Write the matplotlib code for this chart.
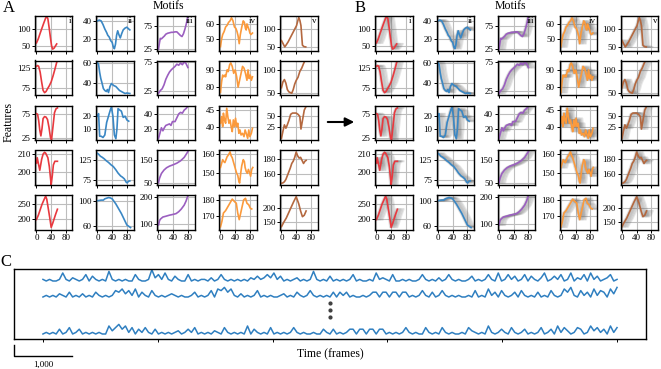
import matplotlib.pyplot as plt
import numpy as np
from matplotlib.patches import FancyArrowPatch
from matplotlib.transforms import blended_transform_factory

plt.rcParams['font.family'] = ['Liberation Serif', 'DejaVu Serif']

# ---- motif curves (frame, feature value), one list per row ----
motif_i_x = [[0, 5, 10, 15, 20, 25, 28, 31, 35, 38, 41, 44, 48, 52, 55],
             [0, 3, 6, 10, 14, 18, 22, 26, 30, 35, 40, 45, 50, 55, 58],
             [0, 3, 6, 9, 12, 15, 18, 22, 26, 30, 34, 38, 41, 45, 49, 53, 57],
             [0, 2, 5, 9, 14, 18, 22, 25, 31, 35, 38, 40, 43, 46, 50, 55, 57],
             [0, 5, 10, 15, 20, 25, 28, 32, 36, 40, 44, 48, 52, 57]]
motif_i_y = [[60, 72, 88, 103, 118, 132, 137, 130, 100, 75, 52, 42, 45, 52, 57],
             [130, 132, 130, 115, 90, 68, 62, 65, 72, 80, 90, 105, 122, 140, 148],
             [76, 75, 62, 42, 30, 45, 66, 70, 69, 64, 48, 27, 22, 50, 78, 86, 88],
             [205, 208, 205, 201, 207, 210, 211, 210.5, 208, 203, 197, 193, 198, 204, 206, 206, 206],
             [198, 212, 230, 248, 262, 275, 265, 235, 205, 172, 185, 200, 215, 232]]
motif_i_ylim = [(38, 138), (56, 145), (21.5, 93), (192.8, 212), (165, 279)]
motif_i_yticks = [[50, 100], [75, 125], [25, 75], [200, 210], [200, 250]]

motif_ii_x = [[0, 5, 10, 15, 20, 25, 28, 32, 36, 40, 43, 46, 49, 52, 55, 58, 62, 66, 70, 75, 80, 85, 88],
              [0, 3, 6, 9, 12, 16, 20, 24, 27, 30, 34, 38, 44, 50, 55, 60, 65, 70, 75, 80, 88],
              [0, 3, 6, 10, 15, 20, 25, 30, 35, 38, 42, 46, 50, 53, 56, 60, 65, 70, 75, 80, 85],
              [0, 3, 8, 12, 18, 24, 30, 37, 43, 50, 56, 63, 68, 73, 78, 81, 84, 88],
              [0, 5, 10, 16, 20, 25, 30, 35, 40, 45, 50, 55, 60, 65, 70, 75, 80, 85, 90]]
motif_ii_y = [[40, 41, 40, 36, 31, 27, 24, 22, 18, 16, 11, 9, 14, 24, 29, 25, 21, 26, 30, 32, 33, 31, 30],
              [60, 58, 50, 44, 40, 34, 32, 31, 33, 30, 36, 39, 37, 36, 34, 32, 31, 30, 29, 29.5, 29],
              [20, 22, 4, 4, 3, 5, 15, 20, 25, 27, 20, 5, 2, 10, 26, 25, 24, 19, 20, 17, 16],
              [140, 138, 133, 131, 127, 122, 118, 112, 108, 100, 92, 85, 82, 78, 70, 68, 72, 73],
              [100, 100.5, 101, 101, 103, 104, 105, 104.5, 103, 99, 95, 90, 85, 80, 74, 68, 62, 60, 58]]
motif_ii_ylim = [(7, 45.5), (27.5, 62), (1, 28.5), (63, 147), (55, 109)]
motif_ii_yticks = [[20, 40], [40, 60], [10, 20], [75, 125], [60, 100]]

motif_iii_x = [[0, 3, 5, 8, 12, 16, 20, 25, 30, 35, 40, 45, 50, 55, 60, 64, 68, 72, 76, 80],
               [0, 5, 10, 15, 20, 25, 30, 35, 40, 45, 50, 55, 60, 65, 70, 75, 80],
               [0, 4, 8, 12, 16, 20, 25, 30, 34, 38, 45, 50, 55, 60, 65, 70, 75, 80],
               [0, 3, 8, 15, 22, 30, 40, 50, 60, 70, 76, 80],
               [0, 3, 6, 12, 20, 30, 40, 48, 55, 62, 70, 75, 80]]
motif_iii_y = [[25, 40, 48, 47, 50, 53, 57, 59, 60, 61, 61, 62, 62, 58, 54, 52, 58, 68, 80, 96],
               [20, 25, 28, 35, 45, 52, 58, 62, 65, 68, 72, 70, 74, 71, 76, 73, 66],
               [8, 15, 22, 18, 22, 25, 26, 27, 25, 30, 30, 35, 40, 42, 41, 45, 47, 50],
               [50, 70, 90, 105, 115, 122, 128, 135, 145, 160, 175, 185],
               [95, 112, 118, 125, 128, 132, 135, 138, 145, 155, 170, 185, 205]]
motif_iii_ylim = [(22, 96), (17, 78.5), (6, 51), (40, 190), (78, 208)]
motif_iii_yticks = [[25, 75], [25, 75], [20, 40], [50, 150], [100, 200]]

motif_iv_x = [[0, 3, 6, 10, 14, 18, 22, 26, 30, 34, 38, 42, 45, 48, 51, 54, 58, 62, 65, 68, 70, 72, 75, 78, 80, 83, 87],
              [0, 3, 6, 9, 12, 14, 18, 21, 25, 28, 32, 36, 40, 44, 48, 52, 56, 60, 64, 68, 72, 75, 78, 81, 84, 87],
              [0, 3, 6, 8, 11, 14, 17, 20, 23, 26, 29, 32, 35, 38, 41, 44, 47, 50, 53, 56, 60, 64, 67, 70, 74, 77, 80, 84, 87],
              [0, 3, 6, 9, 12, 15, 18, 22, 26, 29, 32, 35, 38, 41, 44, 47, 50, 52, 55, 58, 62, 65, 67, 70, 73, 76, 79, 82, 85, 88],
              [0, 4, 8, 14, 23, 32, 38, 43, 47, 51, 57, 63, 68, 72, 77, 81, 85]]
motif_iv_y = [[45, 50, 53, 55, 58, 59, 61, 62, 64, 62, 58, 57, 55, 52, 47, 53, 58, 62, 61, 57, 56, 60, 58, 56, 54, 53, 54],
              [77, 83, 87, 86, 87, 86, 90, 89, 93, 94, 92, 88, 90, 86, 80, 84, 88, 92, 91, 88, 84, 90, 85, 87, 84, 86],
              [41, 43, 40, 44, 42, 41, 45.5, 43, 41, 42, 40, 38.5, 42, 40, 42.5, 40, 41, 38, 39, 37.5, 38, 37, 39, 38, 36.5, 39, 37, 38, 39.5],
              [153, 155, 157, 156, 155.5, 157, 158.5, 159.5, 161, 159, 158, 156, 154, 152, 150, 149, 146, 145, 150, 154, 157, 156, 153, 151, 150, 152, 150.5, 148.5, 152, 153],
              [163.6, 167, 172, 173.5, 177, 180.5, 179, 178, 172, 168, 174, 180, 181, 178, 177, 175, 174.5]]
motif_iv_ylim = [(42.5, 65.2), (75.5, 95.4), (36, 46.3), (144, 161.7), (162, 183)]
motif_iv_yticks = [[50, 60], [80, 90], [40, 45], [150, 160], [170, 180]]

motif_v_x = [[0, 4, 9, 13, 18, 22, 27, 31, 36, 41, 44, 47, 50, 53, 57, 61, 66],
             [0, 4, 8, 12, 16, 20, 25, 28, 32, 36, 40, 45, 50, 55, 60, 64, 67],
             [0, 4, 8, 12, 15, 20, 25, 30, 40, 45, 50, 53, 57, 62, 66, 68],
             [0, 4, 8, 12, 16, 20, 24, 28, 32, 36, 40, 44, 48, 52, 56, 60, 64, 67],
             [0, 6, 13, 20, 27, 33, 40, 47, 52, 57, 62, 67]]
motif_v_y = [[68, 60, 50, 56, 64, 72, 82, 90, 100, 110, 122, 133, 125, 110, 55, 51, 50],
             [62, 75, 80, 72, 58, 53, 51, 50, 58, 70, 78, 85, 98, 105, 115, 122, 128],
             [-2, 15, 30, 22, 28, 40, 55, 58, 58, 55, 50, 20, 40, 65, 72, 78],
             [148, 148.5, 150, 153, 158, 163, 168, 174, 177, 182, 189, 184, 181, 182, 178, 174, 177, 178],
             [135, 150, 165, 185, 205, 222, 240, 215, 190, 170, 175, 190]]
motif_v_ylim = [(40, 137), (46, 122), (-6, 76), (145.7, 191), (125, 246)]
motif_v_yticks = [[50, 100], [50, 100], [25, 50], [160, 180], [150, 200]]

motif_names = ['i', 'ii', 'iii', 'iv', 'v']
motif_colors = ['#e8393f', '#3a87c4', '#9b5fc0', '#fb9a3c', '#b4683f']
motif_xs = [motif_i_x, motif_ii_x, motif_iii_x, motif_iv_x, motif_v_x]
motif_ys = [motif_i_y, motif_ii_y, motif_iii_y, motif_iv_y, motif_v_y]
motif_ylims = [motif_i_ylim, motif_ii_ylim, motif_iii_ylim, motif_iv_ylim, motif_v_ylim]
motif_yticks = [motif_i_yticks, motif_ii_yticks, motif_iii_yticks, motif_iv_yticks, motif_v_yticks]

# frame offsets of the matched occurrences drawn in grey in panel B
match_shifts = [-3, -1, 1, 3, 5, 7, 9, 11, 14, 17]

# ---- long recordings (panel C), one sample every ~57 frames ----
trace_top = [3, 2, 3, 2, 2, 3, 7, 3, 2, 4, 3, 2, 3, 6, 2, 5, 3, 2, 3, 2, 8, 3, 2, 3, 2,
             3, 2, 2, 6, 3, 2, 2, 3, 9, 4, 6, 3, 7, 3, 2, 5, 3, 2, 2, 6, 2, 3, 2, 3, 3,
             2, 4, 2, 3, 6, 3, 2, 3, 2, 3, 2, 3, 2, 4, 3, 5, 3, 4, 6, 4, 7, 3, 5, 2, 3,
             2, 3, 4, 2, 3, 2, 3, 8, 3, 2, 3, 2, 5, 2, 3, 2, 3, 2, 3, 6, 2, 3, 2, 2, 3,
             2, 7, 3, 4, 3, 2, 6, 2, 2, 3, 2, 3, 2, 2, 3, 6, 3, 2, 3, 2, 4, 2, 3, 6, 3,
             2, 3, 2, 2, 3, 5, 2, 3, 2, 3, 6, 3, 2, 7, 2, 3, 6, 3, 5, 2, 3, 6, 2, 5, 3,
             2, 4, 7, 2, 3, 5, 3, 6, 2, 3, 7, 2, 4, 3, 6, 2, 7, 3, 5, 2, 3, 4, 6, 2, 3]
trace_mid = [2, 3, 2, 3, 2, 4, 3, 2, 5, 2, 3, 2, 4, 2, 3, 2, 5, 3, 2, 3, 2, 3, 6, 5, 7,
             4, 6, 3, 7, 2, 5, 3, 2, 6, 3, 2, 3, 2, 3, 4, 3, 2, 3, 2, 2, 3, 5, 2, 3, 2,
             3, 6, 2, 7, 6, 8, 5, 7, 3, 2, 4, 2, 3, 2, 3, 6, 2, 3, 2, 3, 2, 2, 3, 4, 2,
             3, 2, 5, 3, 2, 3, 6, 3, 2, 3, 2, 3, 2, 5, 2, 5, 3, 5, 2, 3, 2, 2, 3, 2, 3,
             5, 5, 2, 5, 5, 2, 5, 5, 2, 5, 5, 2, 3, 2, 3, 6, 3, 2, 5, 2, 3, 6, 3, 2, 3,
             2, 3, 2, 2, 3, 2, 6, 2, 3, 2, 7, 3, 5, 2, 6, 3, 2, 3, 5, 2, 6, 3, 2, 3, 2,
             5, 2, 3, 2, 6, 3, 2, 3, 7, 5, 8, 3, 2, 6, 3, 5, 2, 7, 3, 6, 5, 2, 7, 4, 8]
trace_bot = [2, 3, 2, 3, 2, 5, 2, 3, 6, 2, 3, 5, 2, 3, 2, 3, 2, 3, 2, 2, 7, 4, 6, 8, 5,
             7, 3, 6, 2, 5, 3, 6, 3, 2, 5, 2, 3, 2, 3, 2, 3, 4, 2, 3, 5, 3, 6, 2, 3, 2,
             3, 2, 4, 3, 2, 6, 3, 2, 3, 2, 3, 2, 7, 2, 5, 3, 2, 3, 2, 6, 2, 3, 2, 3, 2,
             3, 6, 3, 2, 3, 2, 2, 3, 2, 2, 5, 3, 2, 5, 2, 3, 2, 3, 5, 5, 2, 5, 5, 2, 5,
             5, 2, 5, 5, 2, 3, 2, 3, 2, 3, 6, 3, 2, 3, 2, 2, 6, 3, 2, 3, 2, 6, 3, 2, 3,
             2, 2, 3, 2, 6, 4, 3, 2, 3, 2, 7, 3, 2, 3, 5, 3, 2, 6, 3, 2, 3, 5, 2, 3, 2,
             3, 6, 2, 3, 5, 2, 7, 3, 6, 4, 2, 3, 6, 5, 2, 3, 7, 4, 6, 3, 5, 2, 7, 3, 6]
n_frames = 10000

W, H = 661, 369
fig = plt.figure(figsize=(W / 100, H / 100), dpi=100)


def px_axes(left, top, w, h):
    return fig.add_axes([left / W, 1 - (top + h) / H, w / W, h / H])


col_left_A = [35, 96, 157, 219, 280]
col_left_B = [375, 436.5, 497.5, 559.5, 620.5]
row_top = [16, 60.5, 105.5, 150.5, 195]
ax_w, ax_h = 37.5, 34.5


def motif_panel(left, top, c, r, with_matches):
    ax = px_axes(left, top, ax_w, ax_h)
    xs = np.array(motif_xs[c][r])
    ys = np.array(motif_ys[c][r])
    if with_matches:
        for s in match_shifts:
            ax.plot(xs + s, ys, color='0.4', alpha=0.15, lw=1.4)
    ax.plot(xs, ys, color=motif_colors[c], lw=1.2)
    ax.set_xlim(-4, 98)
    ax.set_ylim(*motif_ylims[c][r])
    ax.set_xticks([0, 40, 80])
    ax.set_yticks(motif_yticks[c][r])
    if r < 4:
        ax.set_xticklabels([])
    ax.grid(True, color='#bdbdbd', lw=0.8)
    ax.set_axisbelow(True)
    ax.tick_params(labelsize=6.5, length=2, width=0.7, pad=1.2)
    for sp in ax.spines.values():
        sp.set_linewidth(1.0)
    if r == 0:
        ax.text(0.98, 0.96, motif_names[c], transform=ax.transAxes,
                ha='right', va='top', fontsize=6.5)
    return ax


for c in range(5):
    for r in range(5):
        motif_panel(col_left_A[c], row_top[r], c, r, False)
        motif_panel(col_left_B[c], row_top[r], c, r, True)

fig.text(168 / W, 1 - 6 / H, 'Motifs', ha='center', va='center', fontsize=8.5)
fig.text(510 / W, 1 - 6 / H, 'Motifs', ha='center', va='center', fontsize=8.5)
fig.text(8.5 / W, 1 - 122.5 / H, 'Features', rotation=90, ha='center', va='center', fontsize=8.5)
fig.text(3 / W, 1 - 8 / H, 'A', ha='left', va='center', fontsize=12)
fig.text(355 / W, 1 - 8 / H, 'B', ha='left', va='center', fontsize=12)
fig.text(0 / W, 1 - 262 / H, 'C', ha='left', va='center', fontsize=12)

fig.patches.append(FancyArrowPatch((325 / W, 1 - 122 / H), (357 / W, 1 - 122 / H),
                                   transform=fig.transFigure, arrowstyle='-|>',
                                   mutation_scale=13, lw=1.5, color='k'))

# ---- panel C ----
axc = px_axes(14.25, 269, 631.5, 70)
t = np.linspace(0, n_frames, len(trace_top))
for vals, base in zip([trace_top, trace_mid, trace_bot], [58, 42, 5]):
    axc.plot(t, base + (np.array(vals) - 2) * 1.6, color='#2f7fc0', lw=1.1)
axc.plot([n_frames / 2] * 3, [36, 29, 22], 'o', color='0.25', ms=2)
axc.set_xlim(-500, 10500)
axc.set_ylim(0, 70)
axc.set_yticks([])
axc.set_xticks(range(0, n_frames + 1, 2000))
axc.set_xticklabels([])
axc.tick_params(length=2, width=0.7)
for sp in axc.spines.values():
    sp.set_linewidth(1.0)
axc.set_xlabel('Time (frames)', fontsize=8.5, labelpad=1)

trans = blended_transform_factory(axc.transData, axc.transAxes)
axc.plot([-500, -500, 500], [-0.086, -0.243, -0.243], color='k', lw=1.0,
         transform=trans, clip_on=False)
axc.text(0, -0.37, '1,000', transform=trans, ha='center', va='center', fontsize=6.5)

fig.savefig('out.png', dpi=100)
